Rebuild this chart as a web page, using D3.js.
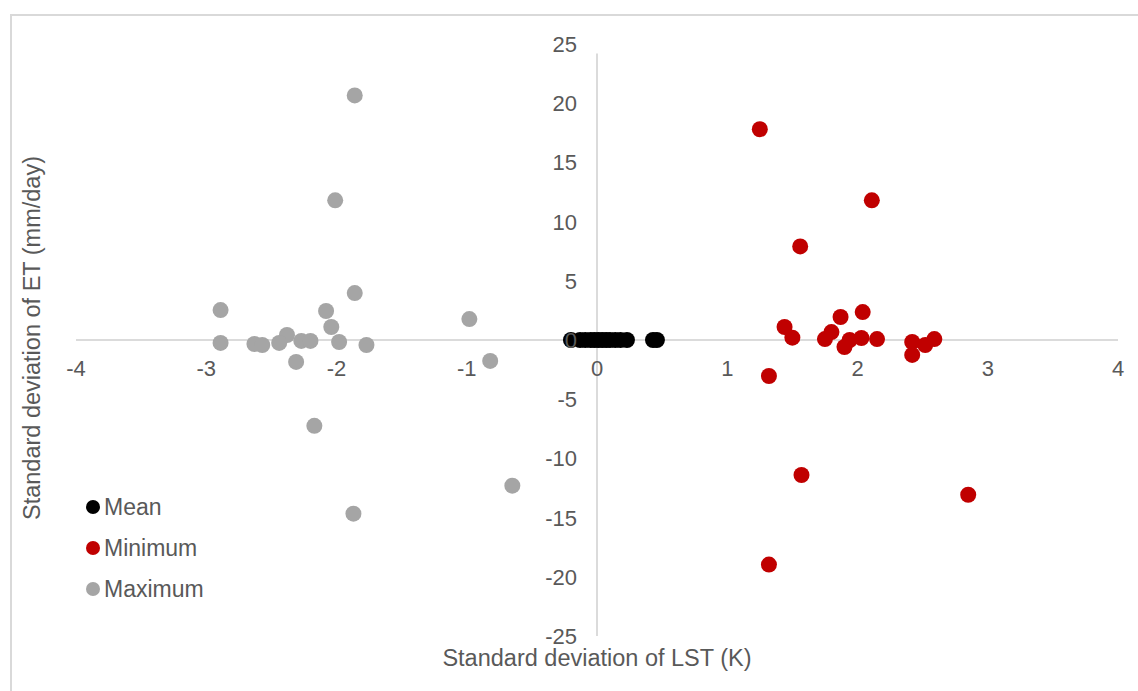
<!DOCTYPE html>
<html>
<head>
<meta charset="utf-8">
<script src="https://cdn.jsdelivr.net/npm/d3@7"></script>
<style>
  body { margin: 0; background: #fff; }
  text { font-family: "Liberation Sans", Arial, sans-serif; fill: #595959; }
</style>
</head>
<body>
<div id="chart"></div>
<script>
var width = 1138,
    height = 691;

// series values: [std LST, std ET]
var meanPts = [[-0.2, 0.0], [-0.13, 0.0], [-0.09, 0.0], [-0.05, 0.0], [-0.02, 0.0],
  [0.01, 0.0], [0.04, 0.0], [0.07, 0.0], [0.1, 0.0], [0.14, 0.0], [0.18, 0.0],
  [0.23, 0.0], [0.43, 0.0], [0.46, 0.0]];
var minPts = [[1.25, 17.8], [2.11, 11.8], [1.56, 7.9], [1.44, 1.1], [1.5, 0.2],
  [1.75, 0.08], [1.8, 0.67], [1.87, 1.94], [2.04, 2.36], [1.9, -0.59], [1.94, 0.0],
  [2.03, 0.17], [2.15, 0.08], [2.42, -0.17], [2.42, -1.26], [2.52, -0.42], [2.59, 0.08],
  [1.32, -3.04], [1.57, -11.4], [2.85, -13.07], [1.32, -18.97]];
var maxPts = [[-1.86, 20.66], [-2.01, 11.8], [-1.86, 3.96], [-2.89, 2.53], [-2.08, 2.45],
  [-2.04, 1.1], [-2.89, -0.25], [-2.38, 0.42], [-2.63, -0.34], [-2.57, -0.42],
  [-2.44, -0.25], [-2.27, -0.08], [-2.2, -0.08], [-1.98, -0.17], [-1.77, -0.42],
  [-2.31, -1.85], [-0.98, 1.77], [-0.82, -1.77], [-2.17, -7.25], [-0.65, -12.3],
  [-1.87, -14.67]];

var xTicks = [-4, -3, -2, -1, 0, 1, 2, 3, 4];
var yTicks = [-25, -20, -15, -10, -5, 0, 5, 10, 15, 20, 25];
var seriesNames = ["Mean", "Minimum", "Maximum"];
var seriesColors = ["#000000", "#C00000", "#A5A5A5"];

var svg = d3.select("#chart").append("svg")
    .attr("width", width)
    .attr("height", height);

// outer frame (only top and left edges show)
svg.append("path")
    .attr("d", "M11,691 V15 H1138")
    .attr("fill", "none")
    .attr("stroke", "#d9d9d9")
    .attr("stroke-width", 2);

var x = d3.scaleLinear().domain([-4, 4]).range([76, 1118]);
var y = d3.scaleLinear().domain([-25, 25]).range([636, 44]);

// axis lines through the origin
svg.append("line")
    .attr("x1", x(-4)).attr("x2", x(4))
    .attr("y1", y(0)).attr("y2", y(0))
    .attr("stroke", "#cfcfcf").attr("stroke-width", 1.5);
svg.append("line")
    .attr("x1", x(0)).attr("x2", x(0))
    .attr("y1", y(24.2)).attr("y2", y(-25))
    .attr("stroke", "#cfcfcf").attr("stroke-width", 1.5);

var all = [meanPts, minPts, maxPts];
// draw maximum first, then minimum, then mean on top
[2, 1, 0].forEach(function(i) {
  svg.append("g").selectAll("circle")
    .data(all[i])
    .enter().append("circle")
    .attr("cx", function(d) { return x(d[0]); })
    .attr("cy", function(d) { return y(d[1]); })
    .attr("r", 8)
    .attr("fill", seriesColors[i]);
});

// tick labels
svg.append("g").selectAll("text")
    .data(xTicks)
    .enter().append("text")
    .attr("x", function(d) { return x(d); })
    .attr("y", y(0) + 36)
    .attr("text-anchor", "middle")
    .style("font-size", "22px")
    .text(function(d) { return d; });

svg.append("g").selectAll("text")
    .data(yTicks)
    .enter().append("text")
    .attr("x", x(0) - 20)
    .attr("y", function(d) { return y(d) + 8; })
    .attr("text-anchor", "end")
    .style("font-size", "22px")
    .text(function(d) { return d; });

// axis titles
svg.append("text")
    .attr("x", x(0))
    .attr("y", 666)
    .attr("text-anchor", "middle")
    .style("font-size", "23.5px")
    .text("Standard deviation of LST (K)");

svg.append("text")
    .attr("transform", "translate(40,338) rotate(-90)")
    .attr("text-anchor", "middle")
    .style("font-size", "23.5px")
    .text("Standard deviation of ET (mm/day)");

// legend
var legend = svg.append("g").selectAll("g")
    .data(seriesNames)
    .enter().append("g")
    .attr("transform", function(d, i) { return "translate(93," + (507 + i * 41) + ")"; });
legend.append("circle")
    .attr("r", 7)
    .attr("fill", function(d, i) { return seriesColors[i]; });
legend.append("text")
    .attr("x", 11)
    .attr("y", 8)
    .style("font-size", "23px")
    .text(function(d) { return d; });
</script>
</body>
</html>
